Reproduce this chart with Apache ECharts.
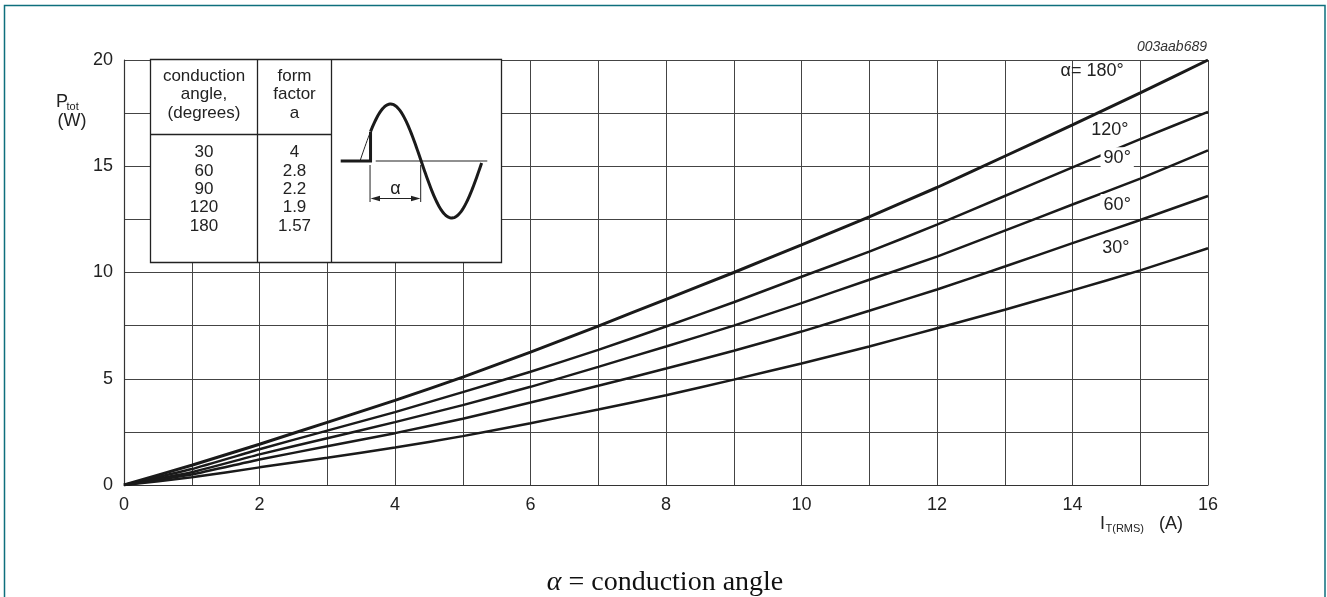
<!DOCTYPE html>
<html>
<head>
<meta charset="utf-8">
<script src="https://cdn.jsdelivr.net/npm/echarts@6.0.0/dist/echarts.min.js"></script>
<style>
  html, body { margin: 0; padding: 0; background: #fff; }
  #chart { width: 1327px; height: 597px; }
</style>
</head>
<body>
<div id="chart"></div>
<script>
// on-state current in A
const currents = [0, 1, 2, 3, 4, 5, 6, 7, 8, 9, 10, 11, 12, 13, 14, 15, 16]
// dissipated power P_tot in W, one curve per conduction angle
const p180 = [0, 0.93, 1.92, 2.95, 3.98, 5.08, 6.25, 7.48, 8.74, 10.0, 11.3, 12.62, 14.0, 15.47, 16.95, 18.45, 20.0]
const p120 = [0, 0.75, 1.68, 2.56, 3.43, 4.37, 5.33, 6.36, 7.46, 8.6, 9.8, 10.98, 12.25, 13.6, 14.95, 16.28, 17.56]
const p90 = [0, 0.6, 1.44, 2.2, 2.96, 3.76, 4.62, 5.56, 6.52, 7.5, 8.56, 9.66, 10.75, 11.97, 13.2, 14.42, 15.75]
const p60 = [0, 0.49, 1.2, 1.82, 2.44, 3.12, 3.88, 4.67, 5.48, 6.32, 7.22, 8.2, 9.2, 10.28, 11.38, 12.47, 13.6]
const p30 = [0, 0.36, 0.83, 1.28, 1.76, 2.3, 2.91, 3.55, 4.22, 4.96, 5.72, 6.52, 7.38, 8.25, 9.16, 10.1, 11.14]

// inset table
const condAngles = ['30', '60', '90', '120', '180']
const formFactors = ['4', '2.8', '2.2', '1.9', '1.57']

const FONT = '"Liberation Sans", Arial, sans-serif'
const INK = '#1a1a1a'

const chart = echarts.init(document.getElementById('chart'))

function curve(name, values, width, label, labelAt, boxed) {
  return {
    name,
    type: 'line',
    data: currents.map((x, i) => [x, values[i]]),
    smooth: 0.15,
    symbol: 'none',
    lineStyle: { color: INK, width },
    z: 3,
    markPoint: {
      symbol: 'rect',
      symbolSize: 1,
      itemStyle: { color: 'rgba(0,0,0,0)' },
      silent: true,
      label: {
        show: true,
        position: 'inside',
        formatter: label,
        color: '#222',
        fontFamily: FONT,
        fontSize: 18,
        backgroundColor: boxed ? '#fff' : 'transparent',
        padding: boxed ? [2, 3] : 0,
      },
      data: [{ coord: labelAt }],
    },
  }
}

// sine sketch in the inset
const sx0 = 360, sPeriod = 122.3, sBase = 161, sAmp = 57
function wave(d0, d1) {
  const pts = []
  for (let d = d0; d <= d1; d += 3) {
    pts.push([sx0 + d / 360 * sPeriod, sBase - sAmp * Math.sin(d * Math.PI / 180)])
  }
  return pts
}
const fireDeg = 31
const fireX = sx0 + fireDeg / 360 * sPeriod
const fireY = sBase - sAmp * Math.sin(fireDeg * Math.PI / 180)

function txt(text, x, y, size, opts = {}) {
  return {
    type: 'text',
    z: 20,
    style: Object.assign({
      text, x, y,
      fill: '#222',
      font: `${size}px ${FONT}`,
      textAlign: 'center',
      textVerticalAlign: 'middle',
    }, opts),
  }
}

const tbl = { l: 150.5, t: 59.5, r: 501.5, b: 262.5, c1: 257.5, c2: 331.5, h: 134.5 }
const rowY = condAngles.map((_, i) => 152.5 + i * 18.4)

const graphic = [
  // page frame
  { type: 'polyline', z: 30, shape: { points: [[4.5, 600], [4.5, 5.5], [1325, 5.5], [1325, 600]] },
    style: { stroke: '#0e6f7d', lineWidth: 1.5, fill: null } },
  // table
  { type: 'rect', z: 15, shape: { x: tbl.l, y: tbl.t, width: tbl.r - tbl.l, height: tbl.b - tbl.t },
    style: { fill: '#fff', stroke: '#222', lineWidth: 1.3 } },
  { type: 'line', z: 16, shape: { x1: tbl.c1, y1: tbl.t, x2: tbl.c1, y2: tbl.b }, style: { stroke: '#222', lineWidth: 1.3 } },
  { type: 'line', z: 16, shape: { x1: tbl.c2, y1: tbl.t, x2: tbl.c2, y2: tbl.b }, style: { stroke: '#222', lineWidth: 1.3 } },
  { type: 'line', z: 16, shape: { x1: tbl.l, y1: tbl.h, x2: tbl.c2, y2: tbl.h }, style: { stroke: '#222', lineWidth: 1.3 } },
  txt('conduction', 204, 76, 17), txt('angle,', 204, 94.5, 17), txt('(degrees)', 204, 113, 17),
  txt('form', 294.5, 76, 17), txt('factor', 294.5, 94.5, 17), txt('a', 294.5, 113, 17),
  ...condAngles.map((v, i) => txt(v, 204, rowY[i], 17)),
  ...formFactors.map((v, i) => txt(v, 294.5, rowY[i], 17)),
  // waveform
  { type: 'line', z: 16, shape: { x1: 375.7, y1: sBase, x2: 487.3, y2: sBase }, style: { stroke: '#222', lineWidth: 1.2 } },
  { type: 'polyline', z: 16, shape: { points: wave(0, fireDeg) }, style: { stroke: '#222', lineWidth: 1, fill: null } },
  { type: 'polyline', z: 17, shape: { points: wave(fireDeg, 360) }, style: { stroke: INK, lineWidth: 3, fill: null } },
  { type: 'polyline', z: 17, shape: { points: [[340.7, sBase], [fireX, sBase], [fireX, fireY]] }, style: { stroke: INK, lineWidth: 3, fill: null } },
  { type: 'line', z: 16, shape: { x1: fireX - 0.5, y1: 165, x2: fireX - 0.5, y2: 202 }, style: { stroke: '#222', lineWidth: 1 } },
  { type: 'line', z: 16, shape: { x1: 420.7, y1: 165, x2: 420.7, y2: 202 }, style: { stroke: '#222', lineWidth: 1 } },
  { type: 'line', z: 16, shape: { x1: 375, y1: 198.5, x2: 416, y2: 198.5 }, style: { stroke: '#222', lineWidth: 1 } },
  { type: 'polygon', z: 16, shape: { points: [[370.5, 198.5], [380, 195.8], [380, 201.2]] }, style: { fill: '#222' } },
  { type: 'polygon', z: 16, shape: { points: [[420.5, 198.5], [411, 195.8], [411, 201.2]] }, style: { fill: '#222' } },
  txt('α', 395.5, 189, 18),
  // axis titles
  txt('P', 56, 102, 18, { textAlign: 'left' }),
  txt('tot', 66.5, 107, 11, { textAlign: 'left' }),
  txt('(W)', 72, 121, 18),
  txt('I', 1100, 524, 18, { textAlign: 'left' }),
  txt('T(RMS)', 1105.5, 529, 11, { textAlign: 'left' }),
  txt('(A)', 1159, 524, 18, { textAlign: 'left' }),
  // drawing id and caption
  txt('003aab689', 1207, 47, 14, { textAlign: 'right', font: `italic 14px ${FONT}`, fill: '#333' }),
  {
    type: 'text',
    z: 20,
    style: {
      text: '{a|α} = conduction angle',
      x: 665,
      y: 583,
      textAlign: 'center',
      textVerticalAlign: 'middle',
      fill: '#111',
      font: '28px "Liberation Serif", "Times New Roman", serif',
      rich: {
        a: { fontStyle: 'italic', fontSize: 28, fontFamily: '"Liberation Serif", serif', fill: '#111' },
      },
    },
  },
]

chart.setOption({
  animation: false,
  backgroundColor: '#fff',
  grid: { left: 124, right: 119, top: 60, bottom: 112 },
  xAxis: {
    type: 'value',
    min: 0,
    max: 16,
    interval: 1,
    axisLine: { lineStyle: { color: '#333', width: 1.2 } },
    axisTick: { show: false },
    axisLabel: {
      color: '#222',
      fontFamily: FONT,
      fontSize: 18,
      margin: 11,
      formatter: (v) => (v % 2 === 0 ? String(v) : ''),
    },
    splitLine: { show: true, lineStyle: { color: '#444', width: 1 } },
  },
  yAxis: {
    type: 'value',
    min: 0,
    max: 20,
    interval: 2.5,
    axisLine: { show: true, lineStyle: { color: '#333', width: 1.2 } },
    axisTick: { show: false },
    axisLabel: {
      color: '#222',
      fontFamily: FONT,
      fontSize: 18,
      margin: 11,
      formatter: (v) => (v % 5 === 0 ? String(v) : ''),
    },
    splitLine: { show: true, lineStyle: { color: '#444', width: 1 } },
  },
  series: [
    curve('180', p180, 3, 'α= 180°', [14.29, 19.5], false),
    curve('120', p120, 2.5, '120°', [14.55, 16.7], false),
    curve('90', p90, 2.5, '90°', [14.66, 15.38], true),
    curve('60', p60, 2.5, '60°', [14.66, 13.18], true),
    curve('30', p30, 2.5, '30°', [14.64, 11.15], false),
  ],
  graphic,
})
</script>
</body>
</html>
